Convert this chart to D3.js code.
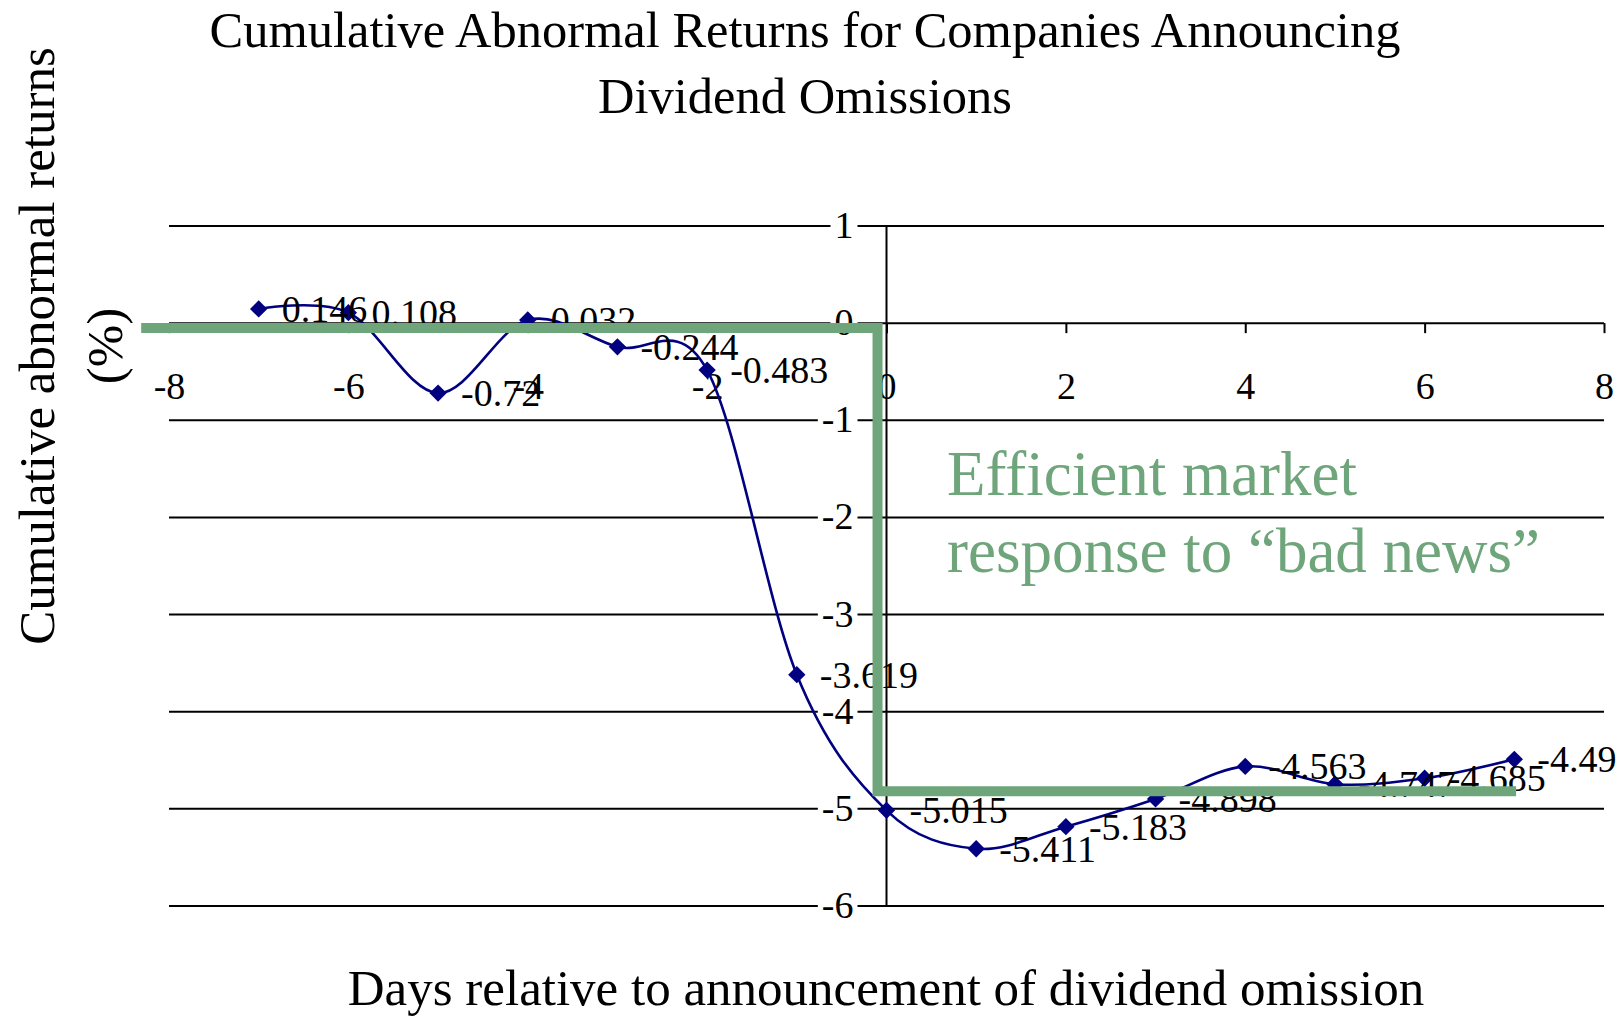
<!DOCTYPE html>
<html>
<head>
<meta charset="utf-8">
<script src="https://cdn.jsdelivr.net/npm/d3@7"></script>
<style>
body { margin: 0; background: #fff; }
text { font-family: "Times New Roman", "Liberation Serif", serif; fill: #000; }
</style>
</head>
<body>
<svg id="chart" width="1618" height="1016"></svg>
<script>
// data
var days = [-7, -6, -5, -4, -3, -2, -1, 0, 1, 2, 3, 4, 5, 6, 7];
var car = [0.146, 0.108, -0.72, 0.032, -0.244, -0.483, -3.619, -5.015, -5.411, -5.183, -4.898, -4.563, -4.747, -4.685, -4.49];
var xTicks = [-8, -6, -4, -2, 0, 2, 4, 6, 8];
var yTicks = [1, 0, -1, -2, -3, -4, -5, -6];
// the green "efficient market" step
var stepX = [-8.31, -0.1, -0.1, 7.02];
var stepY = [-0.05, -0.05, -4.82, -4.82];

var titleLines = ["Cumulative Abnormal Returns for Companies Announcing", "Dividend Omissions"];
var yTitleLines = ["Cumulative abnormal returns", "(%)"];
var noteLines = ["Efficient market", "response to \u201cbad news\u201d"];

function drawChart() {
    var svg = d3.select("#chart");
    var green = "#6fa57b";

    var x = d3.scaleLinear().domain([-8, 8]).range([169, 1604]);
    var y = d3.scaleLinear().domain([-6, 1]).range([906, 226]);

    var points = days.map(function(d, i) { return {x: d, y: car[i]}; });

    // gridlines
    svg.append("g").selectAll("line")
        .data(yTicks)
        .enter().append("line")
        .attr("x1", x(-8)).attr("x2", x(8))
        .attr("y1", function(d) { return y(d); })
        .attr("y2", function(d) { return y(d); })
        .attr("stroke", "#000")
        .attr("stroke-width", 2);

    // vertical axis line at x = 0
    svg.append("line")
        .attr("x1", x(0)).attr("x2", x(0))
        .attr("y1", y(1)).attr("y2", y(-6))
        .attr("stroke", "#000")
        .attr("stroke-width", 2);

    // y tick labels with a white box behind
    var yl = svg.append("g");
    yl.selectAll("text")
        .data(yTicks)
        .enter().append("text")
        .attr("x", x(0) - 33)
        .attr("y", function(d) { return y(d) + 12; })
        .attr("text-anchor", "end")
        .attr("font-size", "38px")
        .text(function(d) { return String(d); })
        .each(function() {
            var b = this.getBBox();
            yl.insert("rect", "text")
                .attr("x", b.x - 4).attr("y", b.y + 4)
                .attr("width", b.width + 8).attr("height", b.height - 8)
                .attr("fill", "#fff");
        });

    // x axis
    var xAxis = d3.axisBottom(x)
        .tickValues(xTicks)
        .tickSize(10)
        .tickPadding(39)
        .tickFormat(function(d) { return String(d); });

    var gx = svg.append("g")
        .attr("transform", "translate(0," + y(0) + ")")
        .call(xAxis);
    gx.select(".domain").remove();
    gx.selectAll(".tick line").attr("stroke", "#000").attr("stroke-width", 2);
    gx.selectAll(".tick text")
        .attr("font-family", '"Times New Roman", "Liberation Serif", serif')
        .attr("font-size", "38px")
        .attr("fill", "#000");

    // series
    var line = d3.line()
        .x(function(d) { return x(d.x); })
        .y(function(d) { return y(d.y); })
        .curve(d3.curveCardinal.tension(0));

    svg.append("path")
        .datum(points)
        .attr("d", line)
        .attr("fill", "none")
        .attr("stroke", "#000080")
        .attr("stroke-width", 2.6);

    var diamond = d3.symbol().type(d3.symbolSquare).size(150);
    svg.append("g").selectAll("path")
        .data(points)
        .enter().append("path")
        .attr("d", diamond)
        .attr("transform", function(d) {
            return "translate(" + x(d.x) + "," + y(d.y) + ") rotate(45)";
        })
        .attr("fill", "#000080");

    svg.append("g").selectAll("text")
        .data(points)
        .enter().append("text")
        .attr("x", function(d) { return x(d.x) + 23; })
        .attr("y", function(d) { return y(d.y) + 13; })
        .attr("font-size", "38px")
        .text(function(d) { return String(d.y); });

    // green step annotation
    var step = stepX.map(function(d, i) { return [x(d), y(stepY[i])]; });
    svg.append("path")
        .attr("d", d3.line()(step))
        .attr("fill", "none")
        .attr("stroke", green)
        .attr("stroke-width", 10)
        .attr("stroke-linejoin", "miter");

    svg.append("g").selectAll("text")
        .data(noteLines)
        .enter().append("text")
        .attr("x", 947)
        .attr("y", function(d, i) { return 495 + i * 77; })
        .attr("font-size", "63px")
        .style("fill", green)
        .text(function(d) { return d; });

    // titles
    svg.append("g").selectAll("text")
        .data(titleLines)
        .enter().append("text")
        .attr("x", 805)
        .attr("y", function(d, i) { return 47 + i * 66; })
        .attr("text-anchor", "middle")
        .attr("font-size", "50.5px")
        .text(function(d) { return d; });

    svg.append("text")
        .attr("x", 886)
        .attr("y", 1005)
        .attr("text-anchor", "middle")
        .attr("font-size", "51px")
        .text("Days relative to announcement of dividend omission");

    svg.append("g").selectAll("text")
        .data(yTitleLines)
        .enter().append("text")
        .attr("transform", function(d, i) {
            return "translate(" + (54 + i * 68) + ",346) rotate(-90)";
        })
        .attr("text-anchor", "middle")
        .attr("font-size", "51px")
        .text(function(d) { return d; });
}

drawChart();
</script>
</body>
</html>
